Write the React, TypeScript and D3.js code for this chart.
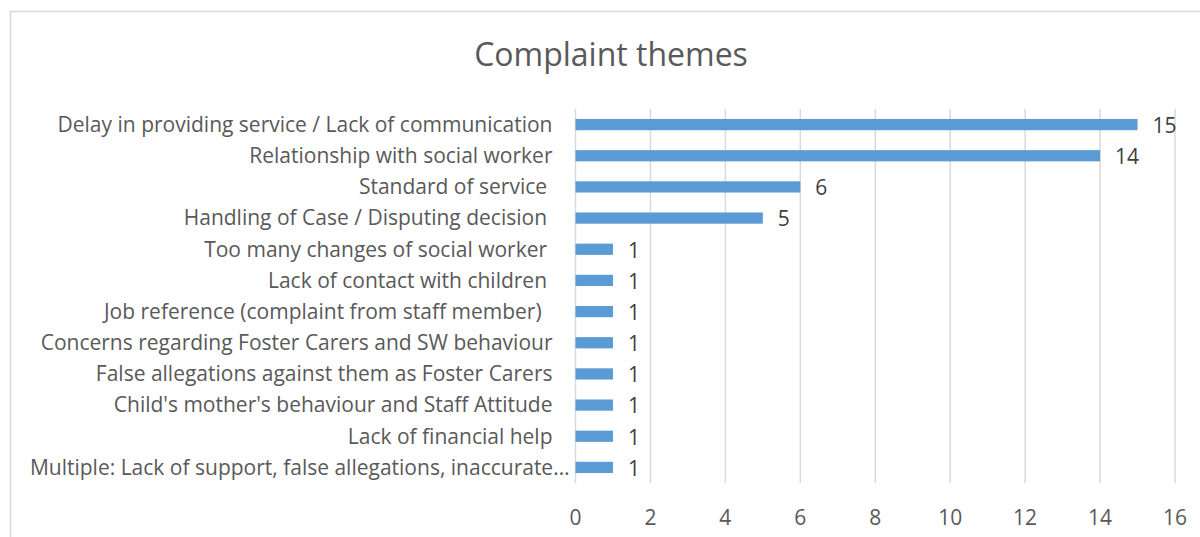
import React from "react";
import * as d3 from "d3";

const categories: string[] = [
  "Delay in providing service / Lack of communication",
  "Relationship with social worker",
  "Standard of service ",
  "Handling of Case / Disputing decision ",
  "Too many changes of social worker ",
  "Lack of contact with children ",
  "Job reference (complaint from staff member)  ",
  "Concerns regarding Foster Carers and SW behaviour",
  "False allegations against them as Foster Carers",
  "Child's mother's behaviour and Staff Attitude",
  "Lack of financial help",
  "Multiple: Lack of support, false allegations, inaccurate…",
];
const values: number[] = [15, 14, 6, 5, 1, 1, 1, 1, 1, 1, 1, 1];
const xTicks: number[] = [0, 2, 4, 6, 8, 10, 12, 14, 16];
const title = "Complaint themes";

const W = 1200;
const H = 537;
const FONT = "'Open Sans', sans-serif";
const TEXT = "#595959";
const FS = 21;

export default function App() {
  const x = d3.scaleLinear().domain([0, 16]).range([575.5, 1175]);
  const y = d3
    .scaleBand<string>()
    .domain(categories)
    .range([109, 483])
    .paddingInner(0.64)
    .paddingOuter(0.32);
  const bw = y.bandwidth();
  return (
    <svg
      width={W}
      height={H}
      style={{ position: "absolute", left: 0, top: 0, background: "#fff" }}
    >
      <rect x={0} y={0} width={W} height={H} fill="#fff" />
      <rect
        x={10.5}
        y={11.5}
        width={W + 20}
        height={H + 20}
        fill="none"
        stroke="#d9d9d9"
        strokeWidth={1.5}
      />
      <text
        x={611}
        y={66}
        textAnchor="middle"
        fontFamily={FONT}
        fontSize={32}
        fill={TEXT}
      >
        {title}
      </text>
      {xTicks.map((t) => (
        <g key={t}>
          <line
            x1={x(t)}
            x2={x(t)}
            y1={109}
            y2={483}
            stroke="#d9d9d9"
            strokeWidth={1.5}
          />
          <text
            x={x(t)}
            y={525}
            textAnchor="middle"
            fontFamily={FONT}
            fontSize={FS}
            fill={TEXT}
          >
            {t}
          </text>
        </g>
      ))}
      {categories.map((c, i) => {
        const yc = (y(c) as number) + bw / 2;
        const truncated = c.endsWith("…");
        return (
          <g key={c}>
            <rect
              x={x(0)}
              y={y(c) as number}
              width={x(values[i]) - x(0)}
              height={bw}
              fill="#5b9bd5"
            />
            <text
              x={truncated ? x(0) - 6 : x(0) - 23}
              y={yc}
              dy="0.35em"
              textAnchor="end"
              fontFamily={FONT}
              fontSize={FS}
              fill={TEXT}
              style={{ whiteSpace: "pre" }}
            >
              {c}
            </text>
            <text
              x={x(values[i]) + 15}
              y={yc + 1}
              dy="0.35em"
              textAnchor="start"
              fontFamily={FONT}
              fontSize={FS}
              fill="#404040"
            >
              {values[i]}
            </text>
          </g>
        );
      })}
    </svg>
  );
}
